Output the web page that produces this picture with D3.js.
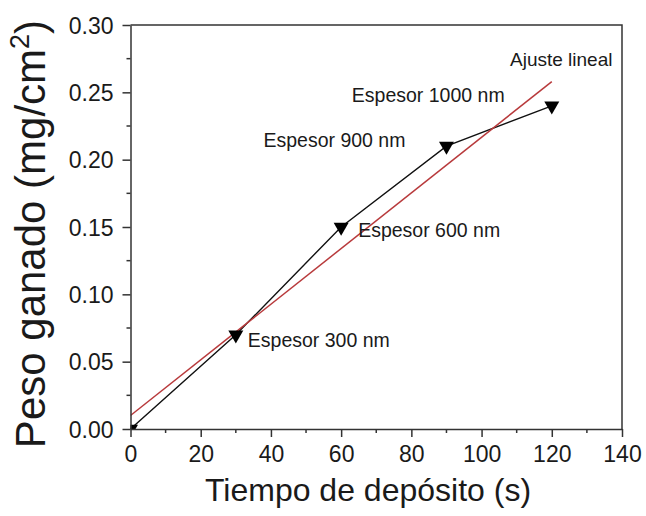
<!DOCTYPE html>
<html>
<head>
<meta charset="utf-8">
<script src="https://cdn.jsdelivr.net/npm/d3@7"></script>
<style>
  html, body { margin: 0; padding: 0; background: #fff; }
  svg { display: block; }
  text { font-family: "Liberation Sans", Arial, sans-serif; fill: #1a1a1a; }
</style>
</head>
<body>
<svg id="chart" width="646" height="516"></svg>
<script>
// Deposition time (s) and mass gain (mg/cm²)
const tiempo = [0, 30, 60, 90, 120];
const peso = [0, 0.07, 0.15, 0.21, 0.24];

// Point annotations: thickness labels
const etiquetas = ["Espesor 300 nm", "Espesor 600 nm", "Espesor 900 nm", "Espesor 1000 nm"];
const etiquetaPuntos = [1, 2, 3, 4];
const etiquetaDx = [12, 17, -183, -200];
const etiquetaDy = [12, 10, 1, -4];

const xTicks = [0, 20, 40, 60, 80, 100, 120, 140];
const yTicks = [0.00, 0.05, 0.10, 0.15, 0.20, 0.25, 0.30];

const svg = d3.select("#chart");
const m = { left: 130.5, right: 622, top: 25, bottom: 429 };

const x = d3.scaleLinear().domain([0, 140]).range([m.left, m.right]);
const y = d3.scaleLinear().domain([0, 0.30]).range([m.bottom, m.top]);

// Least-squares fit of the data
const mx = d3.mean(tiempo), my = d3.mean(peso);
const sxy = d3.sum(tiempo, (t, i) => (t - mx) * (peso[i] - my));
const sxx = d3.sum(tiempo, t => (t - mx) * (t - mx));
const pendiente = sxy / sxx;
const ordenada = my - pendiente * mx;

svg.append("defs").append("clipPath").attr("id", "plot")
  .append("rect")
  .attr("x", m.left).attr("y", m.top)
  .attr("width", m.right - m.left).attr("height", m.bottom - m.top);

const plot = svg.append("g").attr("clip-path", "url(#plot)");

// Data polyline
const linea = d3.line().x((d, i) => x(tiempo[i])).y(d => y(d));
plot.append("path")
  .datum(peso)
  .attr("d", linea)
  .attr("fill", "none")
  .attr("stroke", "#111")
  .attr("stroke-width", 1.4);

// Linear fit
const fitX = [d3.min(tiempo), d3.max(tiempo)];
plot.append("line")
  .attr("x1", x(fitX[0])).attr("y1", y(ordenada + pendiente * fitX[0]))
  .attr("x2", x(fitX[1])).attr("y2", y(ordenada + pendiente * fitX[1]))
  .attr("stroke", "#b83a3c")
  .attr("stroke-width", 1.5);

// Down-pointing triangle markers
const tw = 15, th = 13;
plot.selectAll("path.marker")
  .data(peso)
  .join("path")
  .attr("class", "marker")
  .attr("d", (d, i) => {
    const cx = x(tiempo[i]), cy = y(d);
    return `M${cx - tw / 2},${cy - th / 3}L${cx + tw / 2},${cy - th / 3}L${cx},${cy + 2 * th / 3}Z`;
  })
  .attr("fill", "#000");

// Frame (top and right)
svg.append("path")
  .attr("d", `M${m.left},${m.top}H${m.right}V${m.bottom}`)
  .attr("fill", "none")
  .attr("stroke", "#333")
  .attr("stroke-width", 1.5);

// Axes
const xAxis = d3.axisBottom(x).tickValues(xTicks).tickFormat(d3.format("d")).tickSize(8).tickSizeOuter(0).tickPadding(9);
const yAxis = d3.axisLeft(y).tickValues(yTicks).tickFormat(d3.format(".2f")).tickSize(8).tickSizeOuter(0).tickPadding(9);

const gx = svg.append("g").attr("transform", `translate(0,${m.bottom})`).call(xAxis);
const gy = svg.append("g").attr("transform", `translate(${m.left},0)`).call(yAxis);

// Minor ticks
const xMinor = d3.range(10, 140, 20);
const yMinor = d3.range(0.025, 0.30, 0.05);
gx.selectAll("line.minor").data(xMinor).join("line").attr("class", "minor")
  .attr("x1", d => x(d)).attr("x2", d => x(d)).attr("y1", 0).attr("y2", 4);
gy.selectAll("line.minor").data(yMinor).join("line").attr("class", "minor")
  .attr("y1", d => y(d)).attr("y2", d => y(d)).attr("x1", 0).attr("x2", -4);

[gx, gy].forEach(g => {
  g.select(".domain").attr("stroke", "#333").attr("stroke-width", 1.5);
  g.selectAll("line").attr("stroke", "#333").attr("stroke-width", 1.5);
  g.selectAll("text").attr("font-size", 23).attr("fill", "#1a1a1a")
    .attr("font-family", '"Liberation Sans", Arial, sans-serif');
});
gy.selectAll(".tick text").attr("dy", "0.35em");

// Axis titles
svg.append("text")
  .attr("x", 368).attr("y", 501)
  .attr("text-anchor", "middle")
  .attr("font-size", 32)
  .text("Tiempo de depósito (s)");

const yt = svg.append("text")
  .attr("transform", "translate(45,234) rotate(-90)")
  .attr("text-anchor", "middle")
  .attr("font-size", 42);
yt.append("tspan").text("Peso ganado (mg/cm");
yt.append("tspan").attr("font-size", 27).attr("dy", -16).text("2");
yt.append("tspan").attr("dy", 16).text(")");

// Annotations
svg.selectAll("text.anot")
  .data(etiquetas)
  .join("text")
  .attr("class", "anot")
  .attr("x", (d, i) => x(tiempo[etiquetaPuntos[i]]) + etiquetaDx[i])
  .attr("y", (d, i) => y(peso[etiquetaPuntos[i]]) + etiquetaDy[i])
  .attr("font-size", 19.5)
  .text(d => d);

svg.append("text")
  .attr("x", 510).attr("y", 66)
  .attr("font-size", 19)
  .text("Ajuste lineal");
</script>
</body>
</html>
